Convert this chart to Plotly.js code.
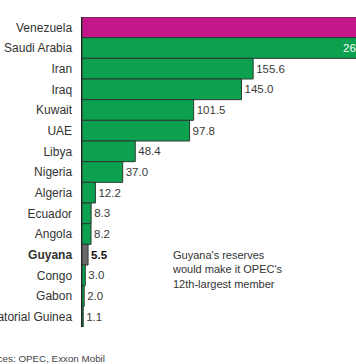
<!DOCTYPE html>
<html>
<head>
<meta charset="utf-8">
<script src="https://cdn.plot.ly/plotly-3.0.1.min.js"></script>
<style>
html,body{margin:0;padding:0;overflow:hidden;background:#fff;width:356px;height:364px;}
#chart{width:440px;height:364px;}
</style>
</head>
<body>
<div id="chart"></div>
<script>
var countries = ["Venezuela","Saudi Arabia","Iran","Iraq","Kuwait","UAE","Libya","Nigeria","Algeria","Ecuador","Angola","Guyana","Congo","Gabon","Equatorial Guinea"];
var reserves = [302.3, 266.2, 155.6, 145.0, 101.5, 97.8, 48.4, 37.0, 12.2, 8.3, 8.2, 5.5, 3.0, 2.0, 1.1];
var valueLabels = ["302.3","266.2","155.6","145.0","101.5","97.8","48.4","37.0","12.2","8.3","8.2","<b>5.5</b>","3.0","2.0","1.1"];
var tickLabels = ["Venezuela","Saudi Arabia","Iran","Iraq","Kuwait","UAE","Libya","Nigeria","Algeria","Ecuador","Angola","<b>Guyana</b>","Congo","Gabon","Equatorial Guinea"];

var colors = countries.map(function(c){
  if (c === "Venezuela") return "#c4168b";
  if (c === "Guyana") return "#6a6a6a";
  return "#0ba14f";
});
var textPos = reserves.map(function(v){ return v > 200 ? "inside" : "outside"; });
var textCol = reserves.map(function(v, i){
  if (v > 200) return "#ffffff";
  if (countries[i] === "Guyana") return "#111111";
  return "#3a3a3a";
});

var font = "Liberation Sans, Arial, Helvetica, sans-serif";

var trace = {
  type: "bar",
  orientation: "h",
  y: countries,
  x: reserves,
  text: valueLabels,
  textposition: textPos,
  insidetextanchor: "end",
  constraintext: "none",
  cliponaxis: false,
  textfont: {family: font, size: 11.5, color: textCol},
  marker: {color: colors, line: {color: "#2b3a31", width: 1}},
  hoverinfo: "none"
};

var layout = {
  width: 440,
  height: 364,
  margin: {l: 82, r: 6, t: 17, b: 37},
  paper_bgcolor: "#ffffff",
  plot_bgcolor: "#ffffff",
  bargap: 0,
  showlegend: false,
  font: {family: font, color: "#333333"},
  xaxis: {range: [0, 320], showticklabels: false, showgrid: false, zeroline: false, showline: false, fixedrange: true},
  yaxis: {
    autorange: "reversed",
    tickvals: countries,
    ticktext: tickLabels,
    tickfont: {family: font, size: 12, color: "#333333"},
    ticks: "",
    ticklabelstandoff: 6,
    showgrid: false,
    zeroline: false,
    showline: true,
    linecolor: "#222222",
    linewidth: 1.5,
    automargin: false
  },
  annotations: [
    {
      xref: "paper", yref: "paper",
      x: 0.25, y: 0.187, xanchor: "left", yanchor: "middle",
      align: "left", showarrow: false,
      text: "Guyana's reserves<br>would make it OPEC's<br>12th-largest member",
      font: {family: font, size: 11, color: "#333333"}
    },
    {
      xref: "paper", yref: "paper",
      x: -0.305, y: -0.1, xanchor: "left", yanchor: "middle",
      align: "left", showarrow: false,
      text: "Sources: OPEC, Exxon Mobil",
      font: {family: font, size: 9.8, color: "#444444"}
    }
  ]
};

Plotly.newPlot("chart", [trace], layout, {displayModeBar: false, staticPlot: true});
</script>
</body>
</html>
